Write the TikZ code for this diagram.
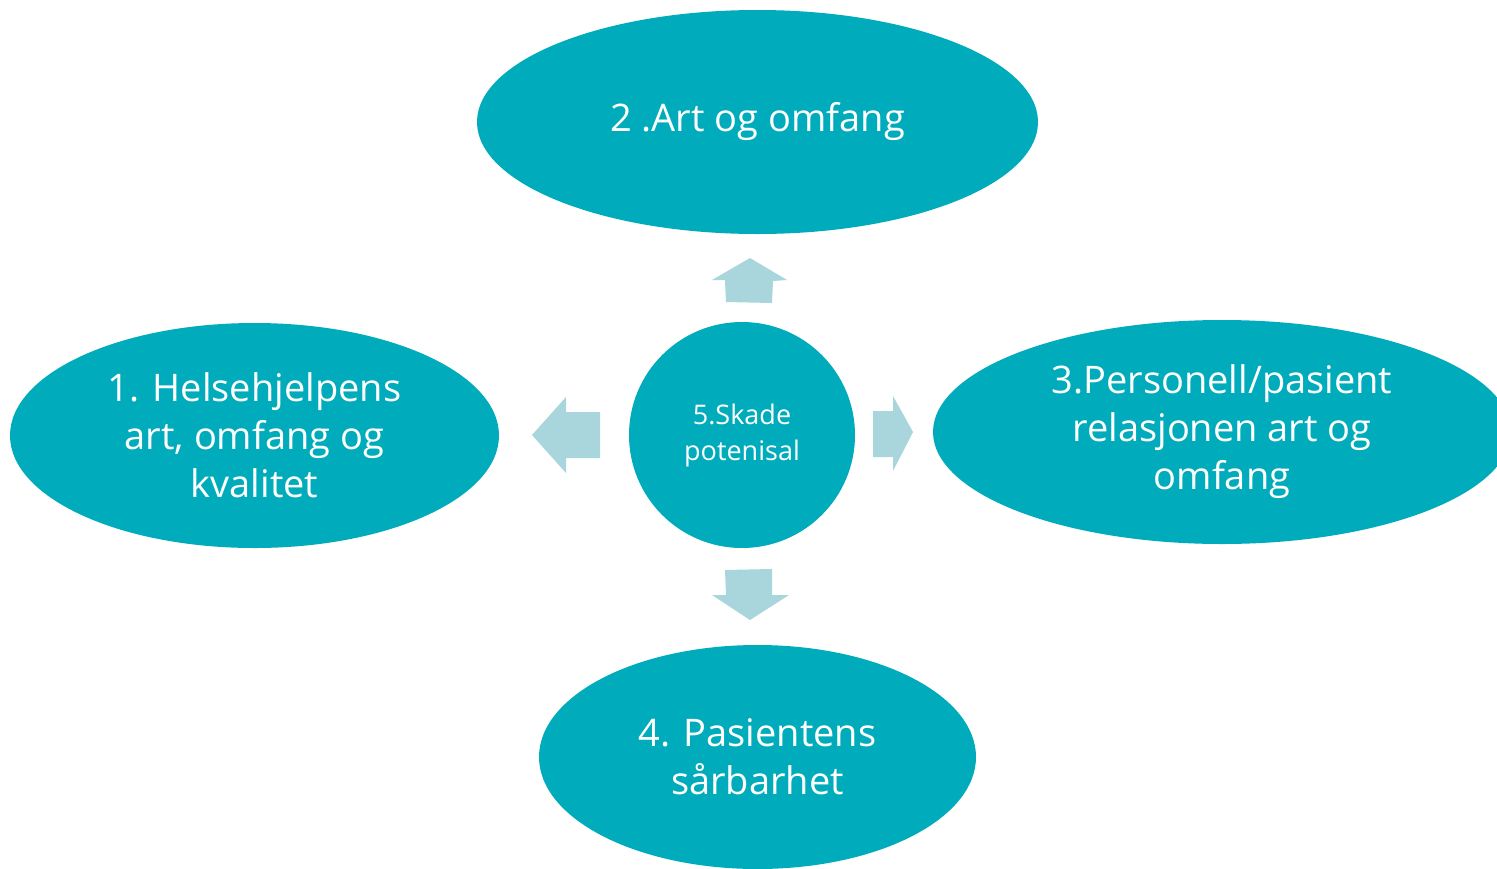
\documentclass[tikz,border=0pt]{standalone}
\usepackage{fontspec}
\setmainfont{Open Sans}
\usetikzlibrary{shapes.geometric}
\definecolor{teal1}{HTML}{00ACBB}
\definecolor{arrowc}{HTML}{A9D5DC}
\tikzset{
  blob/.style={ellipse, fill=teal1, inner sep=0pt, text=white, align=center, font=\fontsize{38}{48}\selectfont},
  blockarrow/.style={fill=arrowc, draw=none}
}
\begin{document}
\begin{tikzpicture}[x=1pt,y=-1pt]
\useasboundingbox (0,0) rectangle (1497,868);
\clip (0,0) rectangle (1497,868);
\fill[white] (0,0) rectangle (1497,868);
\node[blob, minimum width=561pt, minimum height=224pt] (art) at (757.5,122) {2 .Art og omfang};
\node[blob, minimum width=489pt, minimum height=225pt] (help) at (254.5,435.5) {1. Helsehjelpens\\art, omfang og\\kvalitet};
\node[blob, minimum width=578pt, minimum height=224pt] (pers) at (1222,432) {3.Personell/pasient\\relasjonen art og\\omfang};
\node[blob, minimum width=437pt, minimum height=224pt] (pas) at (757.5,757) {4. Pasientens\\sårbarhet};
\node[circle, fill=teal1, minimum size=226pt, inner sep=0pt, text=white, align=center, font=\fontsize{27}{36}\selectfont] (skade) at (742,435) {5.Skade\\potenisal};
% up arrow
\fill[blockarrow] (750,258) -- (787,280) -- (773,281) -- (772,303) -- (726,302) -- (725,280) -- (712,280) -- cycle;
% left arrow
\fill[blockarrow] (532,435) -- (566,397) -- (566,412) -- (600,412) -- (600,458) -- (566,458) -- (566,473) -- cycle;
% right arrow
\fill[blockarrow] (913,432) -- (893,396) -- (893,411) -- (873,411) -- (873,457) -- (893,457) -- (893,471) -- cycle;
% down arrow
\fill[blockarrow] (750,620) -- (789,595) -- (772,595) -- (772,569) -- (725,570) -- (726,595) -- (712,595) -- cycle;
\end{tikzpicture}
\end{document}
